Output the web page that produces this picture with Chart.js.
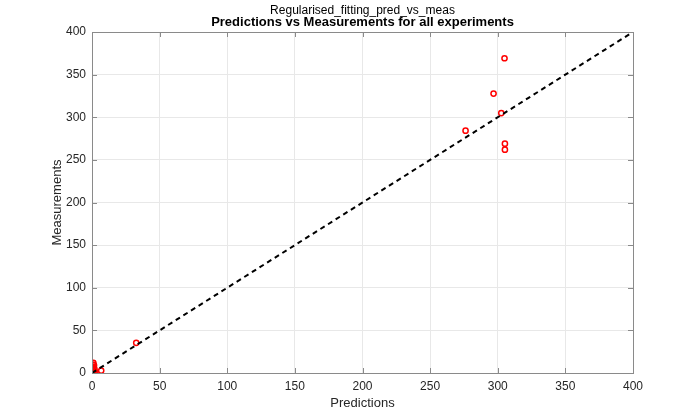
<!DOCTYPE html>
<html>
<head>
<meta charset="utf-8">
<script src="https://cdn.jsdelivr.net/npm/chart.js@4.4.1/dist/chart.umd.min.js"></script>
<style>
    html, body { margin: 0; padding: 0; background: #ffffff; }
    #wrap { width: 700px; height: 420px; }
</style>
</head>
<body>
<div id="wrap"><canvas id="predVsMeas" width="700" height="420"></canvas></div>
<script>
const predictions = [1.0, 0.8, 1.5, 0.9, 1.8, 1.2, 2.0, 0.8, 2.5, 6.8, 32.7, 276.2, 296.9, 302.6, 305.0, 305.3, 305.3];
const measurements = [12, 10, 9, 7, 5, 3, 2, 1, 0.5, 2.8, 35.4, 284.2, 327.8, 304.9, 369.2, 269.0, 262.0];
const identityLine = [0, 400];
const tickValues = [0, 50, 100, 150, 200, 250, 300, 350, 400];
const titleLines = ['Regularised_fitting_pred_vs_meas', 'Predictions vs Measurements for all experiments'];

document.addEventListener('DOMContentLoaded', function () {
    const fontFamily = "'Liberation Sans', Arial, sans-serif";
    const textColor = '#262626';
    const axisColor = '#8a8a8a';

    const points = predictions.map(function (p, i) {
        return { x: p, y: measurements[i] };
    });
    const linePoints = identityLine.map(function (v) {
        return { x: v, y: v };
    });

    // MATLAB style box, inward ticks and two-line title
    const boxPlugin = {
        id: 'matlabBox',
        afterDraw: function (chart) {
            const ctx = chart.ctx;
            const area = chart.chartArea;
            const xs = chart.scales.x;
            const ys = chart.scales.y;
            ctx.save();
            ctx.strokeStyle = axisColor;
            ctx.lineWidth = 1;
            ctx.beginPath();
            tickValues.forEach(function (v) {
                const px = Math.round(xs.getPixelForValue(v)) + 0.5;
                ctx.moveTo(px, area.bottom);
                ctx.lineTo(px, area.bottom - 5);
                ctx.moveTo(px, area.top);
                ctx.lineTo(px, area.top + 5);
                const py = Math.round(ys.getPixelForValue(v)) + 0.5;
                ctx.moveTo(area.left, py);
                ctx.lineTo(area.left + 5, py);
                ctx.moveTo(area.right, py);
                ctx.lineTo(area.right - 5, py);
            });
            ctx.stroke();
            ctx.strokeRect(Math.round(area.left) + 0.5, Math.round(area.top) + 0.5,
                Math.round(area.right - area.left), Math.round(area.bottom - area.top));

            const cx = (area.left + area.right) / 2;
            ctx.fillStyle = '#000000';
            ctx.textAlign = 'center';
            ctx.textBaseline = 'middle';
            ctx.font = '12px ' + fontFamily;
            ctx.fillText(titleLines[0], cx, 11);
            ctx.font = 'bold 13px ' + fontFamily;
            ctx.fillText(titleLines[1], cx, 22);
            ctx.restore();
        }
    };

    new Chart(document.getElementById('predVsMeas'), {
        type: 'scatter',
        data: {
            datasets: [
                {
                    type: 'line',
                    data: linePoints,
                    borderColor: '#000000',
                    borderWidth: 2,
                    borderDash: [5, 4],
                    pointRadius: 0,
                    fill: false
                },
                {
                    data: points,
                    borderColor: '#ff0000',
                    backgroundColor: 'rgba(0,0,0,0)',
                    borderWidth: 1.5,
                    pointRadius: 2.6,
                    pointHoverRadius: 2.6
                }
            ]
        },
        options: {
            responsive: false,
            animation: false,
            layout: {
                padding: { left: 50, right: 67, top: 32, bottom: 9 }
            },
            plugins: {
                legend: { display: false },
                tooltip: { enabled: false }
            },
            scales: {
                x: {
                    type: 'linear',
                    min: 0,
                    max: 400,
                    afterFit: function (scale) { scale.height = 38; },
                    afterBuildTicks: function (scale) {
                        scale.ticks = tickValues.map(function (v) { return { value: v }; });
                    },
                    grid: { color: '#e8e8e8', drawTicks: false },
                    border: { display: false },
                    ticks: {
                        color: textColor,
                        padding: 6,
                        font: { family: fontFamily, size: 12 }
                    },
                    title: {
                        display: true,
                        text: 'Predictions',
                        color: textColor,
                        padding: { top: 0, bottom: 0 },
                        font: { family: fontFamily, size: 13 }
                    }
                },
                y: {
                    type: 'linear',
                    min: 0,
                    max: 400,
                    afterFit: function (scale) { scale.width = 42; },
                    afterBuildTicks: function (scale) {
                        scale.ticks = tickValues.map(function (v) { return { value: v }; });
                    },
                    grid: { color: '#e8e8e8', drawTicks: false },
                    border: { display: false },
                    ticks: {
                        color: textColor,
                        padding: 6,
                        font: { family: fontFamily, size: 12 }
                    },
                    title: {
                        display: true,
                        text: 'Measurements',
                        color: textColor,
                        padding: { top: 0, bottom: 0 },
                        font: { family: fontFamily, size: 13 }
                    }
                }
            }
        },
        plugins: [boxPlugin]
    });
});
</script>
</body>
</html>
